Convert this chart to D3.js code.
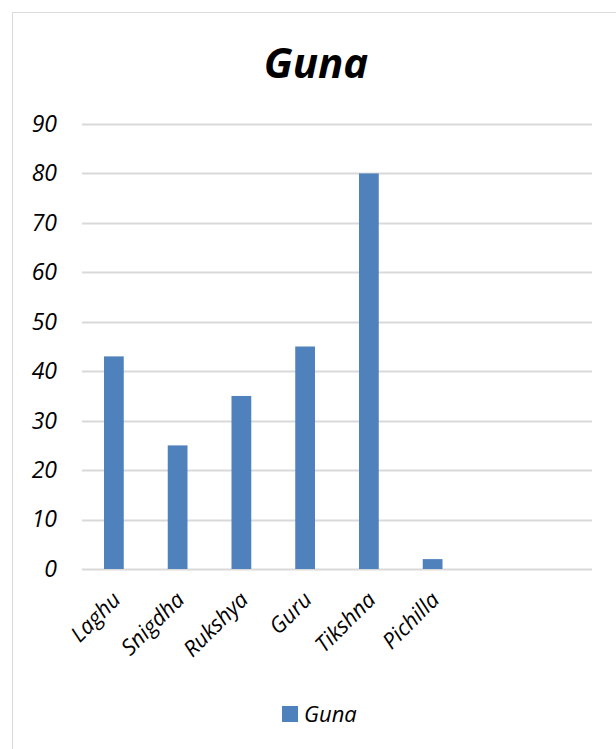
<!DOCTYPE html>
<html>
<head>
<meta charset="utf-8">
<script src="https://cdn.jsdelivr.net/npm/d3@7"></script>
<style>
  body { margin: 0; background: #fff; }
  text { font-family: "Open Sans", sans-serif; font-style: italic; fill: #000; }
</style>
</head>
<body>
<div id="container"></div>
<script>
let categories = ['Laghu', 'Snigdha', 'Rukshya', 'Guru', 'Tikshna', 'Pichilla']
let values = [43, 25, 35, 45, 80, 2]
let yTicks = [0, 10, 20, 30, 40, 50, 60, 70, 80, 90]
let slots = 8

let width = 616,
  height = 749,
  margin = { top: 124, right: 24, bottom: 180, left: 82 },
  bodyWidth = width - margin.left - margin.right,
  bodyHeight = height - margin.top - margin.bottom

let xScale = d3.scaleBand().domain(d3.range(slots)).range([0, bodyWidth]).paddingInner(0.69).paddingOuter(0.345),
  yScale = d3.scaleLinear().domain([0, 90]).range([bodyHeight, 0])

let svg = d3.select('#container')
  .append('svg')
  .attr('width', width)
  .attr('height', height)

svg.append('rect')
  .attr('x', 12.5).attr('y', 12.5)
  .attr('width', width + 10).attr('height', height + 10)
  .attr('fill', 'none')
  .attr('stroke', '#d9d9d9')

svg.append('text')
  .text('Guna')
  .attr('x', 316)
  .attr('y', 78)
  .attr('text-anchor', 'middle')
  .attr('font-size', 42)
  .attr('font-weight', 'bold')

let g = svg.append('g')
  .attr('transform', 'translate(' + margin.left + ', ' + margin.top + ')')

// gridlines
g.append('g')
  .selectAll('line')
  .data(yTicks)
  .join('line')
  .attr('x1', 0).attr('x2', bodyWidth)
  .attr('y1', d => Math.round(yScale(d)) + 0.5)
  .attr('y2', d => Math.round(yScale(d)) + 0.5)
  .attr('stroke', '#d9d9d9')
  .attr('stroke-width', 2)

let yAxis = d3.axisLeft(yScale).tickValues(yTicks).tickSize(0).tickPadding(25)
g.append('g')
  .call(yAxis)
  .call(s => s.select('.domain').remove())
  .selectAll('text')
  .attr('font-size', 23)
  .attr('font-family', '"Open Sans", sans-serif')

g.append('g')
  .selectAll('rect')
  .data(values)
  .join('rect')
  .attr('x', (d, i) => xScale(i))
  .attr('y', d => yScale(d))
  .attr('width', xScale.bandwidth())
  .attr('height', d => bodyHeight - yScale(d))
  .attr('fill', '#4f81bd')

let xAxis = d3.axisBottom(xScale).tickSize(0).tickFormat(i => categories[i] || '')
g.append('g')
  .attr('transform', 'translate(0, ' + bodyHeight + ')')
  .call(xAxis)
  .call(s => s.select('.domain').remove())
  .selectAll('text')
  .attr('font-size', 22)
  .attr('font-family', '"Open Sans", sans-serif')
  .attr('text-anchor', 'end')
  .attr('dy', 0)
  .attr('transform', 'translate(6, 30) rotate(-45)')

let legend = svg.append('g').attr('transform', 'translate(282, 706)')
legend.append('rect').attr('width', 16).attr('height', 16).attr('fill', '#4f81bd')
legend.append('text').text('Guna').attr('x', 22).attr('y', 16).attr('font-size', 22)
</script>
</body>
</html>
